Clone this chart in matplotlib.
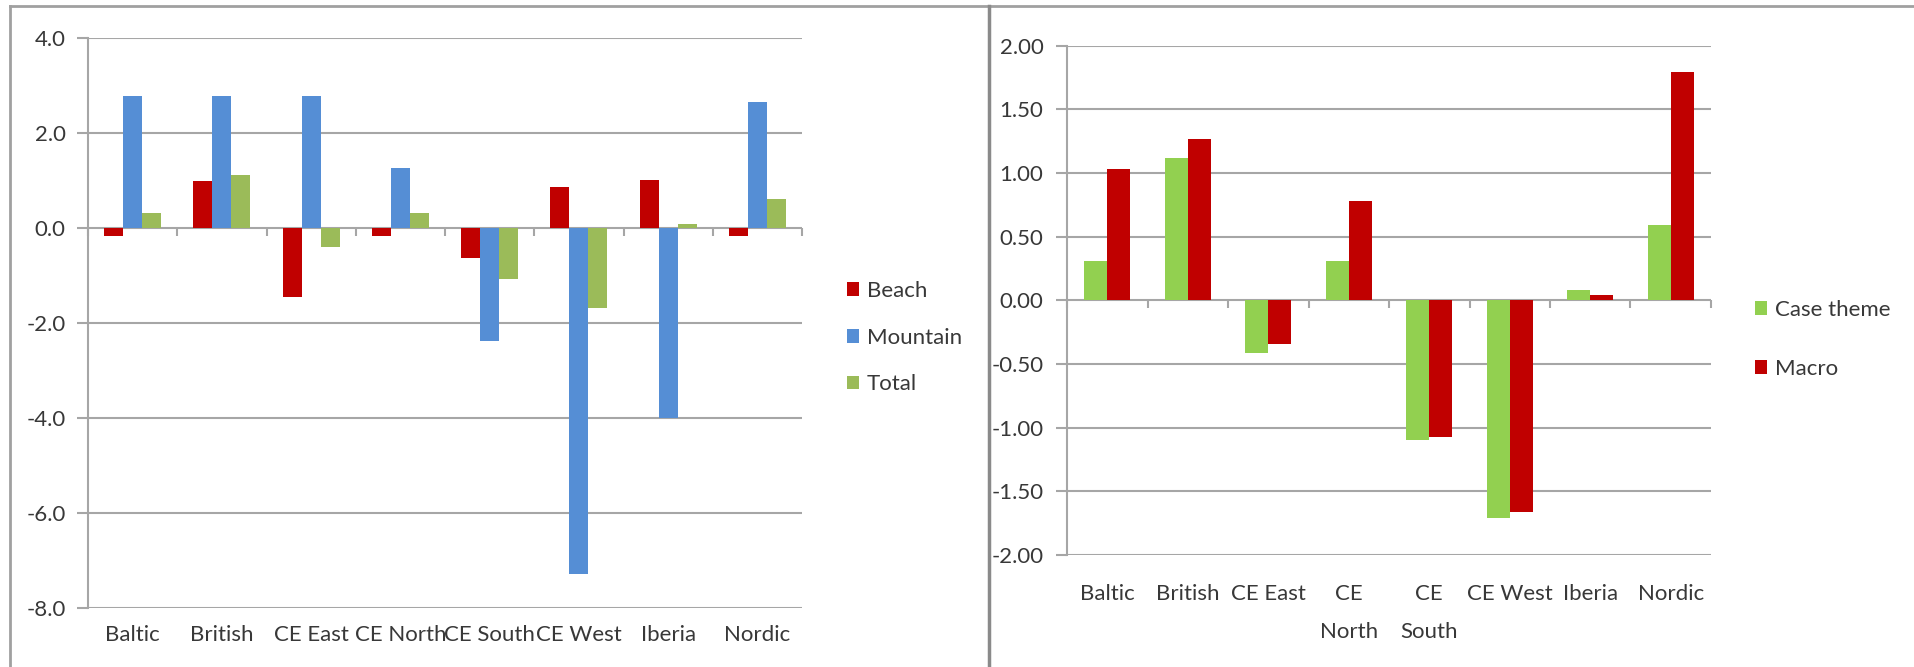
import numpy as np
import matplotlib.pyplot as plt
from matplotlib.lines import Line2D
from matplotlib.ticker import FormatStrFormatter, MultipleLocator

plt.rcParams['font.family'] = ['Lato', 'DejaVu Sans']

regions = ['Baltic', 'British', 'CE East', 'CE North', 'CE South', 'CE West', 'Iberia', 'Nordic']
regions_wrapped = ['Baltic', 'British', 'CE East', 'CE\nNorth', 'CE\nSouth', 'CE West', 'Iberia', 'Nordic']

# left panel: change by holiday type
beach = [-0.18, 0.98, -1.45, -0.18, -0.63, 0.87, 1.01, -0.18]
mountain = [2.78, 2.78, 2.78, 1.25, -2.38, -7.27, -3.99, 2.64]
total = [0.32, 1.11, -0.40, 0.32, -1.08, -1.68, 0.08, 0.60]

# right panel: case theme vs macro
case_theme = [0.31, 1.12, -0.41, 0.31, -1.10, -1.71, 0.08, 0.59]
macro = [1.03, 1.27, -0.34, 0.78, -1.07, -1.66, 0.04, 1.79]

RED = '#c00000'
BLUE = '#558ed5'
OLIVE = '#9bbb59'
LIME = '#92d050'
GRID = '#a6a6a6'
TEXT = '#383838'
FS = 16

W, H = 1915, 667
fig = plt.figure(figsize=(W / 100, H / 100), dpi=100)


def px_axes(x0, y0, x1, y1):
    return fig.add_axes([x0 / W, 1 - y1 / H, (x1 - x0) / W, (y1 - y0) / H])


def style(ax, ylim, step, fmt, labels, xpad, ypad):
    ax.set_xlim(-0.5, len(labels) - 0.5)
    ax.set_ylim(*ylim)
    ax.yaxis.set_major_locator(MultipleLocator(step))
    ax.yaxis.set_major_formatter(FormatStrFormatter(fmt))
    ax.grid(axis='y', color=GRID, lw=1.5)
    ax.set_axisbelow(True)
    for s in ['top', 'right', 'bottom']:
        ax.spines[s].set_visible(False)
    ax.spines['left'].set_color(GRID)
    ax.spines['left'].set_linewidth(1.5)
    ax.tick_params(axis='y', length=8, width=1.5, color=GRID,
                   labelsize=FS, labelcolor=TEXT, pad=ypad)
    ax.set_xticks(np.arange(len(labels)))
    ax.set_xticklabels(labels)
    ax.tick_params(axis='x', length=0, labelsize=FS, labelcolor=TEXT, pad=xpad)
    for t in ax.get_xticklabels():
        t.set_linespacing(2.1)

    # category axis sits on the zero line, with ticks between groups
    zero = ax.secondary_xaxis(-ylim[0] / (ylim[1] - ylim[0]))
    zero.xaxis.set_ticks_position('bottom')
    zero.set_xticks(np.arange(-0.5, len(labels), 1.0))
    zero.set_xticklabels([])
    zero.tick_params(axis='x', direction='out', length=6, width=1.5, color=GRID)
    zero.spines['top'].set_visible(False)
    zero.spines['bottom'].set_color(GRID)
    zero.spines['bottom'].set_linewidth(1.5)


x = np.arange(len(regions))

ax1 = px_axes(88, 37.7, 802, 608.3)
w1 = 0.213
ax1.bar(x - w1, beach, w1, color=RED, label='Beach')
ax1.bar(x, mountain, w1, color=BLUE, label='Mountain')
ax1.bar(x + w1, total, w1, color=OLIVE, label='Total')
style(ax1, (-8, 4), 2, '%.1f', regions, 12, 8)
ax1.legend(loc='upper left', bbox_to_anchor=(847 / W, 1 - 281 / H),
           bbox_transform=fig.transFigure, frameon=False, fontsize=FS,
           handlelength=0.55, handleheight=0.55, handletextpad=0.35,
           labelspacing=1.2, borderpad=0, borderaxespad=0, labelcolor=TEXT)

ax2 = px_axes(1067, 45.7, 1711, 555)
w2 = 0.286
ax2.bar(x - w2 / 2, case_theme, w2, color=LIME, label='Case theme')
ax2.bar(x + w2 / 2, macro, w2, color=RED, label='Macro')
style(ax2, (-2, 2), 0.5, '%.2f', regions_wrapped, 21, 9)
ax2.legend(loc='upper left', bbox_to_anchor=(1755 / W, 1 - 300 / H),
           bbox_transform=fig.transFigure, frameon=False, fontsize=FS,
           handlelength=0.55, handleheight=0.55, handletextpad=0.35,
           labelspacing=1.75, borderpad=0, borderaxespad=0, labelcolor=TEXT)

# panel frames
fig.add_artist(Line2D([10 / W, 10 / W], [0, 1 - 6 / H], color='#a0a0a0', lw=2))
fig.add_artist(Line2D([10 / W, 1], [1 - 6 / H, 1 - 6 / H], color='#a0a0a0', lw=2))
fig.add_artist(Line2D([989 / W, 989 / W], [0, 1 - 6 / H], color='#8a8a8a', lw=2.5))

fig.savefig('out.png', dpi=100)
